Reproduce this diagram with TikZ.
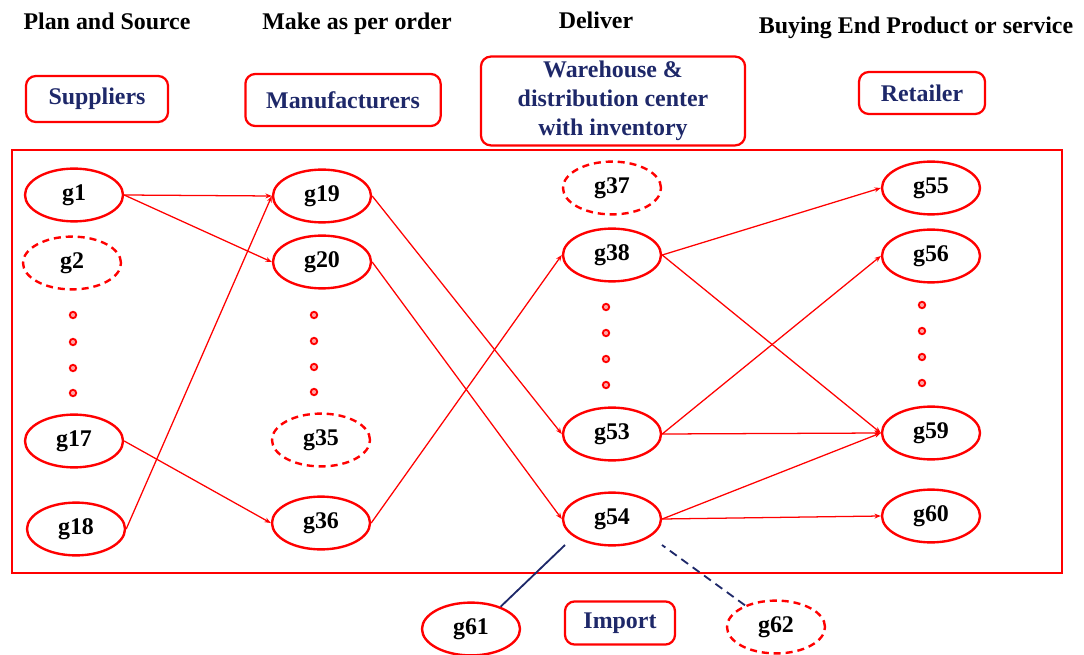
\documentclass[tikz,border=0pt]{standalone}
\usepackage{fontspec}
\setmainfont{Liberation Serif}
\usetikzlibrary{arrows.meta,shapes.geometric}
\definecolor{navy}{RGB}{30,40,105}

\begin{document}
\begin{tikzpicture}[x=0.025cm, y=-0.025cm, >=Stealth,
  font=\fontsize{17}{20.5}\selectfont\bfseries,
  gn/.style={draw=red, ellipse, line width=1.7pt, minimum width=2.45cm,
    minimum height=1.32cm, inner sep=0pt},
  gd/.style={gn, dash pattern=on 5pt off 3.5pt},
  lbl/.style={draw=red, rounded corners=7pt, line width=1.6pt, text=navy,
    align=center, inner sep=0pt},
  lnk/.style={red, line width=0.9pt, -{Stealth[length=4.5pt, width=3.5pt]}}]
\useasboundingbox (0,0) rectangle (1084,655);
% stage titles
\node[anchor=base] (t1) at (107,30) {Plan and Source};
\node[anchor=base] (t2) at (357,30) {Make as per order};
\node[anchor=base] (t3) at (596,29) {Deliver};
\node[anchor=base] (t4) at (916,34) {Buying End Product or service};
% role boxes
\node[lbl, minimum width=3.55cm, minimum height=1.15cm] (sup) at (97,99) {Suppliers};
\node[lbl, minimum width=4.88cm, minimum height=1.3cm] (man) at (343,100) {Manufacturers};
\node[lbl, minimum width=6.6cm, minimum height=2.22cm] (wh) at (613,101)
  {Warehouse \&\\distribution center\\with inventory};
\node[lbl, minimum width=3.15cm, minimum height=1.05cm] (ret) at (922,93) {Retailer};
\node[lbl, minimum width=2.75cm, minimum height=1.08cm] (imp) at (620,623) {Import};
% frame round the network
\draw[red, line width=1.5pt] (12,150) rectangle (1062,573);
% suppliers
\node[gn] (g1) at (74,195) {g1};
\node[gd] (g2) at (72,263) {g2};
\node[gn] (g17) at (74,441) {g17};
\node[gn] (g18) at (76,529) {g18};
% manufacturers
\node[gn] (g19) at (322,196) {g19};
\node[gn] (g20) at (322,262) {g20};
\node[gd] (g35) at (321,440) {g35};
\node[gn] (g36) at (321,523) {g36};
% warehouses
\node[gd] (g37) at (612,188) {g37};
\node[gn] (g38) at (612,255) {g38};
\node[gn] (g53) at (612,434) {g53};
\node[gn] (g54) at (612,519) {g54};
% retailers
\node[gn] (g55) at (931,188) {g55};
\node[gn] (g56) at (931,256) {g56};
\node[gn] (g59) at (931,433) {g59};
\node[gn] (g60) at (931,516) {g60};
% import
\node[gn] (g61) at (471,629) {g61};
\node[gd] (g62) at (776,627) {g62};
% dots between the ellipses
\foreach \x/\y in {73/315,73/342,73/368,73/393,314/315,314/341,314/367,314/392,
  606/307,606/333,606/359,606/385,922/305,922/331,922/357,922/383}
  \draw[red, line width=1.3pt, fill=red!35] (\x,\y) circle (2.3pt);
% flows
\draw[lnk] (g1.east) -- (g19.west);
\draw[lnk] (g1.east) -- (g20.west);
\draw[lnk] (g18.east) -- (g19.west);
\draw[lnk] (g17.east) -- (g36.west);
\draw[lnk] (g19.east) -- (g53.west);
\draw[lnk] (g20.east) -- (g54.west);
\draw[lnk] (g36.east) -- (g38.west);
\draw[lnk] (g38.east) -- (g55.west);
\draw[lnk] (g38.east) -- (g59.west);
\draw[lnk] (g53.east) -- (g56.west);
\draw[lnk] (g53.east) -- (g59.west);
\draw[lnk] (g54.east) -- (g59.west);
\draw[lnk] (g54.east) -- (g60.west);
% import links
\coordinate (i1) at (565,545);
\coordinate (i2) at (662,545);
\draw[navy, line width=1.3pt] (g61.37) -- (i1);
\draw[navy, line width=1.3pt, dash pattern=on 6pt off 4pt] (g62.145) -- (i2);
\end{tikzpicture}
\end{document}
